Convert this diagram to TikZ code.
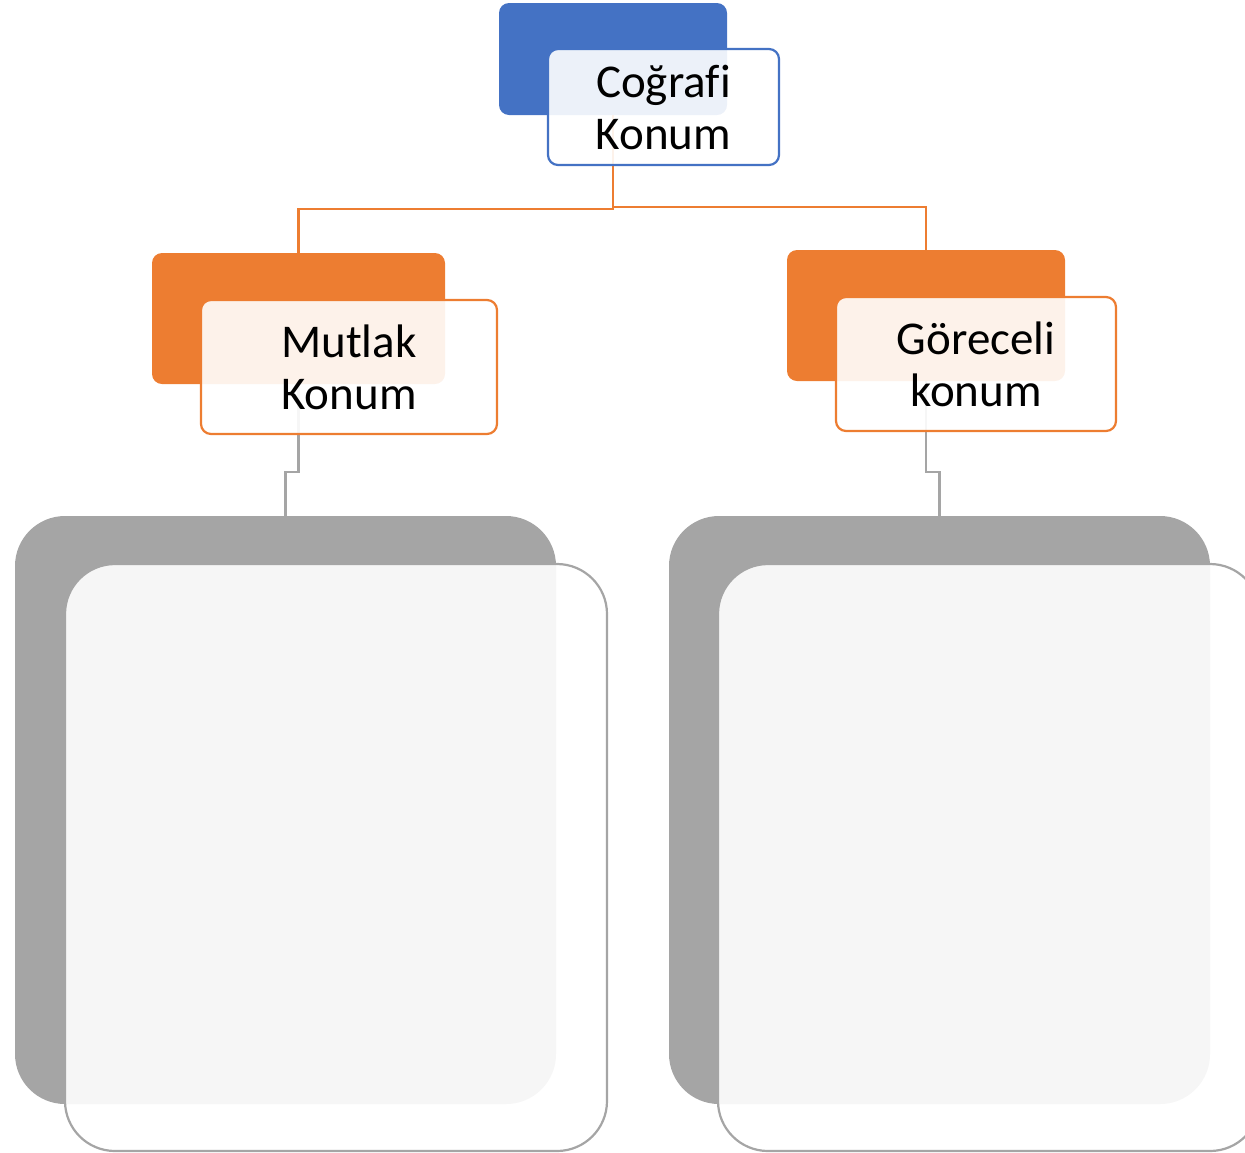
\documentclass[tikz,border=0pt]{standalone}
\usepackage{fontspec}
\setmainfont[Ligatures=NoCommon]{Carlito}
\usetikzlibrary{calc}
\definecolor{cblue}{HTML}{4472C4}
\definecolor{corange}{HTML}{ED7D31}
\definecolor{cgray}{HTML}{A5A5A5}
\tikzset{
  backbox/.style={rectangle, rounded corners=10pt, inner sep=0pt, outer sep=0pt, draw=none},
  frontbox/.style={rectangle, rounded corners=10pt, inner sep=0pt, outer sep=0pt, line width=2.2pt,
     fill=white, fill opacity=0.9, text opacity=1, align=center,
     font=\fontsize{47}{52}\selectfont},
  bigback/.style={backbox, rounded corners=50pt, fill=cgray},
  bigfront/.style={frontbox, rounded corners=50pt, draw=cgray},
  orangeline/.style={draw=corange, line width=2.5pt},
  grayline/.style={draw=cgray, line width=2.5pt},
}
\begin{document}
\begin{tikzpicture}[x=1pt,y=-1pt]
\useasboundingbox (0,0) rectangle (1245,1152);
\clip (0,0) rectangle (1245,1152);
% back boxes
\node[backbox, fill=cblue, minimum width=228pt, minimum height=112pt] (topback) at (613,59) {};
\node[backbox, fill=corange, minimum width=293pt, minimum height=131pt] (lback) at (298.5,318.5) {};
\node[backbox, fill=corange, minimum width=278pt, minimum height=131pt] (rback) at (926,315.5) {};
\node[bigback, minimum width=541pt, minimum height=588pt] (glback) at (285.5,810) {};
\node[bigback, minimum width=541pt, minimum height=588pt] (grback) at (939.5,810) {};
% connectors
\draw[orangeline] (topback.south) -- (topback.south |- 0,209) -| (lback.north);
\draw[orangeline] (topback.south) -- (topback.south |- 0,207) -| (rback.north);
\draw[grayline] (lback.south) -- (lback.south |- 0,472) -| (glback.north);
\draw[grayline] (rback.south) -- (rback.south |- 0,472) -| (grback.north);
% front boxes
\node[frontbox, draw=cblue, minimum width=231pt, minimum height=116pt] (topfront) at (663.5,107) {Coğrafi\\Konum};
\node[frontbox, draw=corange, minimum width=296pt, minimum height=134pt] (lfront) at (349,367) {Mutlak\\Konum};
\node[frontbox, draw=corange, minimum width=280pt, minimum height=134pt] (rfront) at (976,364) {Göreceli\\konum};
\node[bigfront, minimum width=542pt, minimum height=587pt] (glfront) at (336,857.5) {};
\node[bigfront, minimum width=542pt, minimum height=587pt] (grfront) at (989,857.5) {};
\end{tikzpicture}
\end{document}
